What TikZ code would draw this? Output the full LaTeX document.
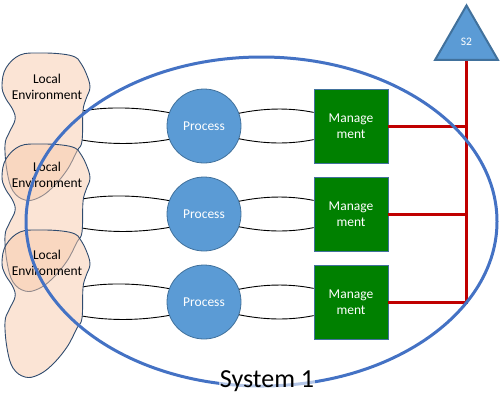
\documentclass[tikz,border=0pt]{standalone}
\usepackage{fontspec}
\setmainfont{Carlito}
\usetikzlibrary{shapes.geometric}
\definecolor{peach}{HTML}{F8CBAD}
\definecolor{envline}{HTML}{2F4B6E}
\definecolor{procfill}{HTML}{5B9BD5}
\definecolor{procline}{HTML}{41719C}
\definecolor{mgmt}{HTML}{008000}
\definecolor{sysblue}{HTML}{4472C4}
\definecolor{redl}{HTML}{C00000}
\tikzset{
  blob/.pic={\path[pic actions] plot[smooth cycle, tension=0.65] coordinates {
    (20,2) (40,0) (62,1) (75,4) (80,9) (86,20) (90,34) (86,46) (83,58) (82,88)
    (77,98) (67,117) (52,135) (38,145) (25,147) (13,138) (7,118) (5,92) (9,80)
    (15,67) (13,57) (5,44) (2,32) (6,15)};},
  blobwhite/.style={fill=white},
  blobfill/.style={fill=peach, fill opacity=0.5, draw=envline, line width=0.9pt},
  envtext/.style={align=center, font=\fontsize{13.5}{16}\selectfont, inner sep=0pt},
  procnode/.style={circle, minimum size=74pt, inner sep=0pt, fill=procfill, draw=procline, line width=0.8pt, text=white, font=\fontsize{13.5}{16}\selectfont},
  mgmtnode/.style={rectangle, minimum size=74pt, inner sep=0pt, fill=mgmt, draw=procline, line width=0.8pt, text=white, align=center, font=\fontsize{13.5}{15.5}\selectfont},
  trinode/.style={regular polygon, regular polygon sides=3, minimum size=72.7pt, inner sep=0pt, fill=procfill, draw=procline, line width=2pt, text=white, font=\fontsize{11.5}{13}\selectfont},
  lens/.style={draw=black, line width=0.9pt},
  redline/.style={draw=redl, line width=3pt},
  sysline/.style={draw=sysblue, line width=3pt},
  syslabel/.style={fill=white, fill opacity=0.6, text opacity=1, inner sep=1pt, font=\fontsize{26}{30}\selectfont}
}
\begin{document}
\begin{tikzpicture}[x=1pt, y=-1pt]
\useasboundingbox (0,0) rectangle (500,416);
% process and management nodes
\foreach \i/\yy in {1/126, 2/214, 3/302} {
  \node[procnode] (p\i) at (204,\yy) {Process};
  \node[mgmtnode] (m\i) at (351,\yy) {Manage\\ment};
  \coordinate (et\i) at (82,\yy-15);
  \coordinate (eb\i) at (82,\yy+14);
}
\node[trinode] (tri) at (466.5,41.8) {S2};
% lenses
\foreach \i in {1,2,3} {
  \draw[lens] (et\i) .. controls +(28,-5) and +(-28,-5) .. (p\i.159);
  \draw[lens] (eb\i) .. controls +(28,5) and +(-28,5) .. (p\i.201);
  \draw[lens] (p\i.20) .. controls +(25,-5) and +(-25,-5) .. (m\i.160);
  \draw[lens] (p\i.-20) .. controls +(25,5) and +(-25,5) .. (m\i.200);
}
% local environments
\foreach \yy in {53,144,230} { \pic[blobwhite] at (0,\yy) {blob}; }
\foreach \yy in {53,144,230} { \pic[blobfill] at (0,\yy) {blob}; }
\node[envtext] (env1) at (47,87) {Local\\Environment};
\node[envtext] (env2) at (47,175) {Local\\Environment};
\node[envtext] (env3) at (47,263) {Local\\Environment};
% red connectors
\draw[redline] (m1.east) -- (m1.east -| tri.south);
\draw[redline] (m2.east) -- (m2.east -| tri.south);
\draw[redline] (m3.east) -- (m3.east -| tri.south) -- (tri.south);
% system boundary
\draw[sysline] (261.5,221.5) ellipse [x radius=235.5pt, y radius=164.5pt];
\node[syslabel] (sys) at (267,381) {System 1};
\end{tikzpicture}
\end{document}
